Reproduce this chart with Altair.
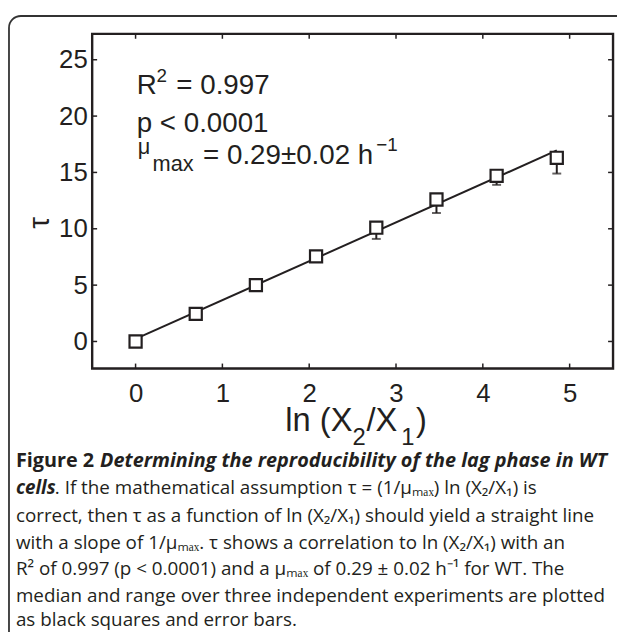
import altair as alt
import pandas as pd

# ---- data ----
x_ln = [0.0, 0.693, 1.386, 2.079, 2.773, 3.466, 4.159, 4.852]
tau_median = [0.0, 2.45, 5.0, 7.55, 10.1, 12.6, 14.7, 16.3]
tau_low = [0.0, 2.3, 4.9, 7.4, 9.1, 11.4, 13.9, 14.9]
tau_high = [0.1, 2.6, 5.2, 7.7, 10.5, 13.0, 15.1, 16.8]
x_ticks = [0, 1, 2, 3, 4, 5]
y_ticks = [0, 5, 10, 15, 20, 25]

caption_lines = [
    [("Figure 2", "bold", "normal"),
     ("Determining the reproducibility of the lag phase in WT", "bold", "italic")],
    [("cells", "bold", "italic"),
     (". If the mathematical assumption \u03c4 = (1/\u03bc\u2098\u2090\u2093) ln (X\u2082/X\u2081) is", "normal", "normal")],
    [("correct, then \u03c4 as a function of ln (X\u2082/X\u2081) should yield a straight line", "normal", "normal")],
    [("with a slope of 1/\u03bc\u2098\u2090\u2093. \u03c4 shows a correlation to ln (X\u2082/X\u2081) with an", "normal", "normal")],
    [("R\u00b2 of 0.997 (p < 0.0001) and a \u03bc\u2098\u2090\u2093 of 0.29 \u00b1 0.02 h\u207b\u00b9 for WT. The", "normal", "normal")],
    [("median and range over three independent experiments are plotted", "normal", "normal")],
    [("as black squares and error bars.", "normal", "normal")],
]

df = pd.DataFrame({"x": x_ln, "tau": tau_median, "lo": tau_low, "hi": tau_high})

INK = "#231f20"
AXF = "Liberation Sans"
CAPF = "Open Sans"
W, H = 526, 338
PAD_L, PAD_T = 85, 23

xs = alt.Scale(domain=[-0.5, 5.5], nice=False, zero=False)
ys = alt.Scale(domain=[-2.4, 27.3], nice=False, zero=False)

base = alt.Chart(df)

fit = base.transform_regression("x", "tau").mark_line(color=INK, strokeWidth=2).encode(
    x=alt.X("x:Q", scale=xs,
            axis=alt.Axis(values=x_ticks, format="d", title=None, grid=False, domain=False,
                          ticks=False, labelFont=AXF, labelFontSize=26, labelColor=INK,
                          labelPadding=12)),
    y=alt.Y("tau:Q", scale=ys,
            axis=alt.Axis(values=y_ticks, format="d", title=None, grid=False, domain=False,
                          ticks=False, labelFont=AXF, labelFontSize=26, labelColor=INK,
                          labelPadding=5)),
)

err = base.mark_rule(color=INK, strokeWidth=2).encode(x="x:Q", y="lo:Q", y2="hi:Q")
cap = base.mark_tick(color=INK, orient="horizontal", size=9, thickness=2).encode(x="x:Q", y="lo:Q")
pts = base.mark_point(shape="square", size=150, filled=True, fill="white", stroke=INK,
                      strokeWidth=2.2, opacity=1).encode(x="x:Q", y="tau:Q")

one = pd.DataFrame({"a": [0]})

# plot frame
box = alt.Chart(one).mark_rect(fillOpacity=0, stroke=INK, strokeWidth=2.4).encode(
    x=alt.value(0), x2=alt.value(W), y=alt.value(0), y2=alt.value(H))

# inward ticks on all four sides
xt = pd.DataFrame({"v": x_ticks})
yt = pd.DataFrame({"v": y_ticks})
tick_b = alt.Chart(xt).mark_rule(color=INK, strokeWidth=1.5).encode(
    x=alt.X("v:Q", scale=xs), y=alt.value(H), y2=alt.value(H - 5))
tick_t = alt.Chart(xt).mark_rule(color=INK, strokeWidth=1.5).encode(
    x=alt.X("v:Q", scale=xs), y=alt.value(0), y2=alt.value(5))
tick_l = alt.Chart(yt).mark_rule(color=INK, strokeWidth=1.5).encode(
    y=alt.Y("v:Q", scale=ys), x=alt.value(0), x2=alt.value(5))
tick_r = alt.Chart(yt).mark_rule(color=INK, strokeWidth=1.5).encode(
    y=alt.Y("v:Q", scale=ys), x=alt.value(W), x2=alt.value(W - 5))


def txt(s, px, py, size, font=AXF, weight="normal", style="normal", align="left", angle=0,
        baseline="alphabetic"):
    kw = dict(text=s, font=font, fontSize=size, fontWeight=weight, fontStyle=style,
              color=INK, align=align, baseline=baseline)
    if angle:
        kw["angle"] = angle
    return alt.Chart(one).mark_text(**kw).encode(
        x=alt.value(px - PAD_L - 8), y=alt.value(py - PAD_T - 8))


texts = [
    # annotations inside the plot (page coordinates)
    txt("R", 138, 92, 28),
    txt("2", 158, 80, 19),
    txt("= 0.997", 178, 92, 28),
    txt("p < 0.0001", 138, 130, 28),
    txt("\u03bc", 139, 152, 22),
    txt("max", 154, 170, 22),
    txt("= 0.29\u00b10.02 h", 205, 162, 28),
    txt("\u22121", 380, 149, 19),
    # y title
    txt("\u03c4", 40, 222, 30, align="center", angle=270, baseline="middle"),
    # x title
    txt("ln (X", 288, 432, 33),
    txt("2", 356, 446, 24),
    txt("/X", 370, 432, 33),
    txt("1", 405, 446, 24),
    txt(")", 420, 432, 33),
]

caption_x = 16
caption_base = [468, 496, 524, 551, 578, 605, 629]
for i, line in enumerate(caption_lines):
    for j, (s, w, st) in enumerate(line):
        if (i, j) == (0, 0):
            texts.append(txt(s, caption_x, caption_base[i], 20, font=CAPF, weight=w, style=st))
        elif (i, j) == (0, 1):
            texts.append(txt(s, 101, caption_base[i], 20, font=CAPF, weight=w, style=st))
        elif (i, j) == (1, 1):
            texts.append(txt(s, 542, caption_base[i], 19, font=CAPF, weight=w, style=st,
                             align="right"))
        else:
            texts.append(txt(s, caption_x, caption_base[i], 19, font=CAPF, weight=w, style=st))

frame = alt.Chart(one).mark_rect(cornerRadius=12, fillOpacity=0, stroke="#333333",
                                 strokeWidth=1.8).encode(
    x=alt.value(9 - PAD_L - 8), x2=alt.value(700), y=alt.value(13 - PAD_T - 8), y2=alt.value(800))

chart = alt.layer(frame, fit, err, cap, pts, box, tick_b, tick_t, tick_l, tick_r, *texts).properties(
    width=W, height=H,
    autosize=alt.AutoSizeParams(type="none"),
    padding={"left": PAD_L, "top": PAD_T, "right": 4, "bottom": 263},
).configure_view(stroke=None).configure(background="white")

chart.save("out.html", embed_options={"renderer": "svg", "actions": False})
